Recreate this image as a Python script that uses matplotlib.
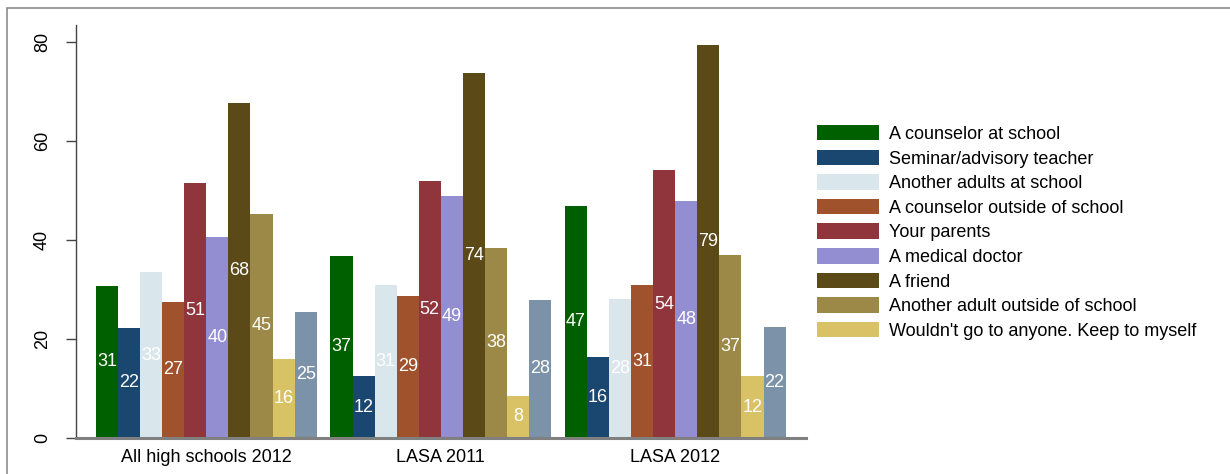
import numpy as np
import matplotlib
matplotlib.use("Agg")
import matplotlib.pyplot as plt
from matplotlib.patches import Rectangle

plt.rcParams['font.family'] = ['Liberation Sans', 'DejaVu Sans']

# Data
groups = ["All high schools 2012", "LASA 2011", "LASA 2012"]
answers = ["A counselor at school", "Seminar/advisory teacher", "Another adults at school",
           "A counselor outside of school", "Your parents", "A medical doctor", "A friend",
           "Another adult outside of school", "Wouldn't go to anyone. Keep to myself", ""]
hs_2012 = [30.6, 22.2, 33.4, 27.4, 51.4, 40.5, 67.6, 45.3, 15.9, 25.4]
lasa_2011 = [36.8, 12.4, 30.8, 28.7, 51.8, 48.8, 73.7, 38.3, 8.4, 27.8]
lasa_2012 = [46.9, 16.4, 28.0, 30.8, 54.0, 47.9, 79.3, 37.0, 12.4, 22.4]
values = [hs_2012, lasa_2011, lasa_2012]

colors = ['#006000', '#1a476f', '#d9e6eb', '#a0522d', '#90353b',
          '#938dd2', '#5b4918', '#9c8847', '#d9c266', '#7b92a8']

FS = 13

fig = plt.figure(figsize=(12.3, 4.74), dpi=100)
ax = fig.add_axes([76 / 1230, 1 - 437.7 / 474, 729.7 / 1230, 412.7 / 474])

group_step = 10.625
for g, vals in enumerate(values):
    for i, v in enumerate(vals):
        x = g * group_step + i
        ax.bar(x, v, width=1.0, color=colors[i], edgecolor='none',
               label=answers[i] if (g == 0 and answers[i]) else None)
        ax.text(x, v / 2, f"{v:.0f}", ha='center', va='center', color='white', fontsize=FS)

ax.set_xlim(-1.406, 31.66)
ax.set_ylim(0, 83.4)
ax.set_xticks([g * group_step + 4.5 for g in range(3)])
ax.set_xticklabels(groups, fontsize=FS)
ax.tick_params(axis='x', length=0, pad=8)
ax.set_yticks([0, 20, 40, 60, 80])
ax.tick_params(axis='y', length=7, width=1, color='#444444', pad=11, labelsize=FS)
for lab in ax.get_yticklabels():
    lab.set_rotation(90)
    lab.set_va('center')

ax.spines['top'].set_visible(False)
ax.spines['right'].set_visible(False)
ax.spines['left'].set_color('#444444')
ax.spines['left'].set_linewidth(1)
ax.spines['bottom'].set_color('#808080')
ax.spines['bottom'].set_linewidth(2.2)

leg = fig.legend(loc='upper left', bbox_to_anchor=(817 / 1230, 1 - 125 / 474),
                 frameon=False, fontsize=FS, handlelength=3.44, handleheight=0.94,
                 handletextpad=0.55, labelspacing=0.37, borderpad=0, borderaxespad=0)

# outer frame
fig.patches.append(Rectangle((7 / 1230, -0.1), 1.2, 1 - 8 / 474 + 0.1,
                             transform=fig.transFigure, fill=False,
                             edgecolor='#8c8c8c', linewidth=1.2))

fig.savefig("out.png", dpi=100)
